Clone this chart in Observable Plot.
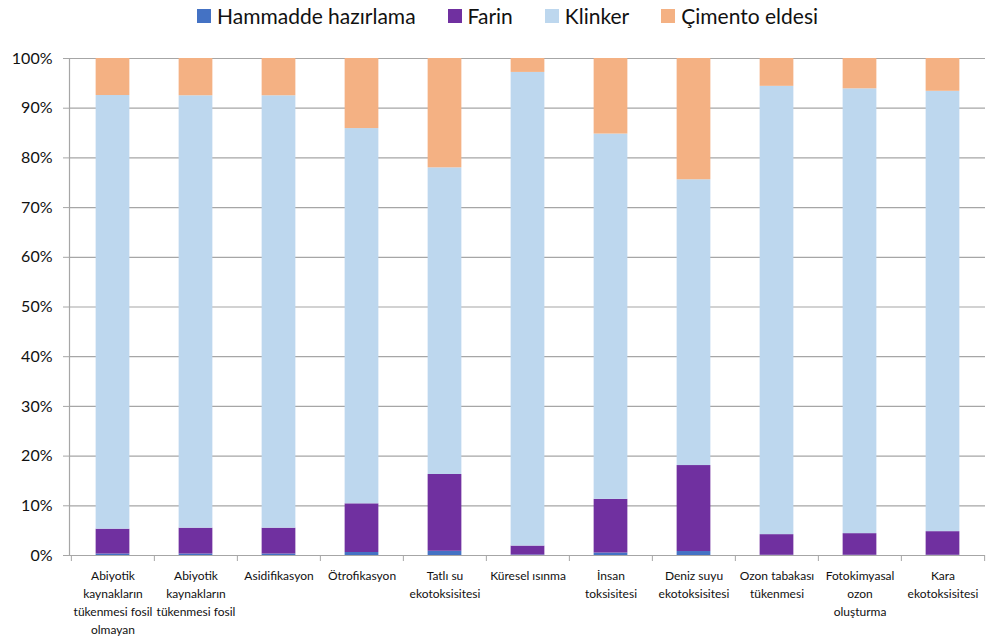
<!DOCTYPE html>
<html>
<head>
<meta charset="utf-8">
<script src="https://cdn.jsdelivr.net/npm/d3@7"></script>
<script src="https://cdn.jsdelivr.net/npm/@observablehq/plot@0.6"></script>
<style>
  html, body { margin: 0; padding: 0; background: #fff; }
  #chart { width: 996px; font-family: Lato, "Noto Sans", sans-serif; }
  .legend { height: 40px; display: flex; align-items: flex-start; padding-left: 197px; box-sizing: border-box; }
  .legend .item { display: flex; align-items: center; margin-right: 32px; font-size: 21px; color: #111; line-height: 32px; }
  .legend .sw { width: 14px; height: 14px; margin-right: 6px; display: inline-block; }
</style>
</head>
<body>
<div id="chart"></div>
<script>
// Impact categories along the x axis
const categories = [
  "Abiyotik kaynakların tükenmesi fosil olmayan",
  "Abiyotik kaynakların tükenmesi fosil",
  "Asidifikasyon",
  "Ötrofikasyon",
  "Tatlı su ekotoksisitesi",
  "Küresel ısınma",
  "İnsan toksisitesi",
  "Deniz suyu ekotoksisitesi",
  "Ozon tabakası tükenmesi",
  "Fotokimyasal ozon oluşturma",
  "Kara ekotoksisitesi"
];
// Wrapped tick labels
const tickLabels = [
  "Abiyotik\nkaynakların\ntükenmesi fosil\nolmayan",
  "Abiyotik\nkaynakların\ntükenmesi fosil",
  "Asidifikasyon",
  "Ötrofikasyon",
  "Tatlı su\nekotoksisitesi",
  "Küresel ısınma",
  "İnsan\ntoksisitesi",
  "Deniz suyu\nekotoksisitesi",
  "Ozon tabakası\ntükenmesi",
  "Fotokimyasal\nozon\noluşturma",
  "Kara\nekotoksisitesi"
];

// Process stages (stack order, bottom to top) and their colours
const stages = ["Hammadde hazırlama", "Farin", "Klinker", "Çimento eldesi"];
const stageColors = ["#4472C4", "#7030A0", "#BDD7EE", "#F4B183"];

// Share of each stage per category (%)
const hammadde = [0.3, 0.3, 0.3, 0.6, 0.85, 0.1, 0.5, 0.8, 0.05, 0.05, 0.05];
const farin    = [5.0, 5.2, 5.2, 9.8, 15.45, 1.8, 10.8, 17.3, 4.15, 4.35, 4.75];
const klinker  = [87.25, 87.0, 87.0, 75.5, 61.7, 95.3, 73.5, 57.5, 90.2, 89.5, 88.6];
const cimento  = [7.45, 7.5, 7.5, 14.1, 22.0, 2.8, 15.2, 24.4, 5.6, 6.1, 6.6];

// Y axis ticks (%)
const yTicks = [0, 10, 20, 30, 40, 50, 60, 70, 80, 90, 100];

const stageValues = [hammadde, farin, klinker, cimento];
const rows = categories.flatMap((c, i) =>
  stages.map((s, j) => ({category: c, stage: s, value: stageValues[j][i]}))
);
const labelOf = new Map(categories.map((c, i) => [c, tickLabels[i]]));

const W = 996, H = 598, mL = 69, mR = 11, mT = 18, mB = 83;
const step = (W - mL - mR) / categories.length;
const barWidth = 34;
const inset = (step - barWidth) / 2;
const gray = "#a6a6a6";

const legend = document.createElement("div");
legend.className = "legend";
stages.forEach((s, i) => {
  const item = document.createElement("div");
  item.className = "item";
  const sw = document.createElement("span");
  sw.className = "sw";
  sw.style.background = stageColors[i];
  item.appendChild(sw);
  item.appendChild(document.createTextNode(s));
  legend.appendChild(item);
});
document.getElementById("chart").appendChild(legend);

const chart = Plot.plot({
  width: W,
  height: H,
  marginTop: mT,
  marginBottom: mB,
  marginLeft: mL,
  marginRight: mR,
  style: {fontFamily: "Lato, 'Noto Sans', sans-serif", background: "#fff", color: "#111"},
  x: {domain: categories, padding: 0, label: null, axis: null},
  y: {domain: [0, 100], label: null, axis: null},
  color: {domain: stages, range: stageColors},
  marks: [
    Plot.ruleY(yTicks.filter(d => d > 0), {stroke: gray, strokeWidth: 1.2}),
    Plot.barY(rows, Plot.stackY({order: stages}, {
      x: "category", y: "value", fill: "stage",
      insetLeft: inset, insetRight: inset
    })),
    Plot.ruleY([0], {stroke: gray, strokeWidth: 1.2}),
    Plot.frame({anchor: "left", stroke: gray, strokeWidth: 1.2}),
    Plot.axisY({
      ticks: yTicks, tickFormat: d => d + "%", tickSize: 6, tickPadding: 11,
      fontSize: 16, stroke: gray, fill: "#111"
    }),
    // boundary ticks between categories
    Plot.axisX({ticks: categories, tickSize: 6, tickFormat: () => "", dx: -step / 2, stroke: gray}),
    Plot.axisX({ticks: categories.slice(-1), tickSize: 6, tickFormat: () => "", dx: step / 2, stroke: gray}),
    Plot.axisX({
      ticks: categories, tickSize: 0, tickPadding: 12,
      tickFormat: d => labelOf.get(d), fontSize: 12, lineHeight: 1.5, fill: "#111"
    })
  ]
});
document.getElementById("chart").appendChild(chart);
</script>
</body>
</html>
